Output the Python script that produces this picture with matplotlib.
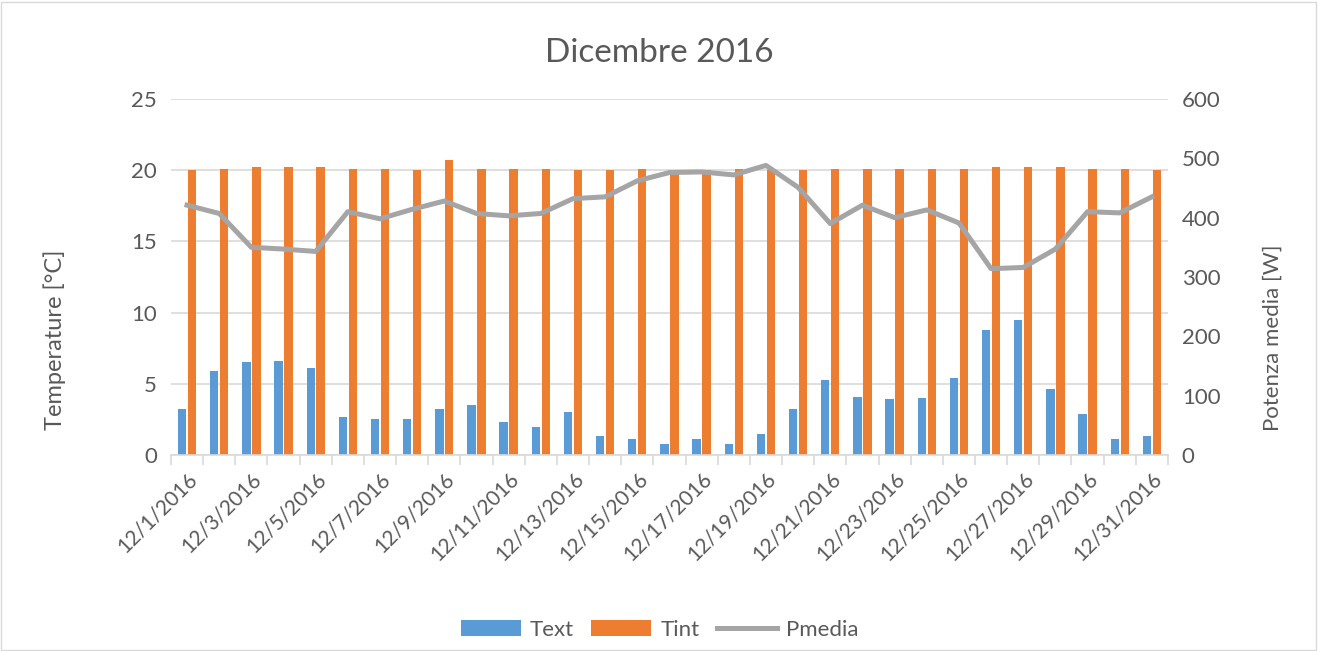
import numpy as np
import matplotlib
matplotlib.use("Agg")
import matplotlib.pyplot as plt
from matplotlib.patches import Rectangle

plt.rcParams['font.family'] = ['Lato', 'DejaVu Sans']

days = ["12/%d/2016" % d for d in range(1, 32)]

t_ext = [3.2, 5.9, 6.5, 6.6, 6.1, 2.7, 2.5, 2.5, 3.2, 3.5,
         2.3, 2.0, 3.0, 1.3, 1.1, 0.8, 1.1, 0.8, 1.5, 3.2,
         5.3, 4.1, 3.9, 4.0, 5.4, 8.8, 9.5, 4.6, 2.9, 1.1, 1.3]
t_int = [20.0, 20.1, 20.2, 20.2, 20.2, 20.1, 20.1, 20.0, 20.7, 20.1,
         20.1, 20.1, 20.0, 20.0, 20.1, 20.0, 20.0, 20.1, 20.0, 20.0,
         20.1, 20.1, 20.1, 20.1, 20.1, 20.2, 20.2, 20.2, 20.1, 20.1, 20.0]
p_media = [421, 407, 350, 347, 343, 410, 398, 414, 428, 407,
           403, 407, 432, 435, 462, 476, 477, 472, 488, 451,
           390, 421, 400, 413, 391, 314, 316, 347, 410, 408, 435]

blue = "#5B9BD5"
orange = "#ED7D31"
grey = "#A5A5A5"
txt = "#595959"
grid = "#D9D9D9"

fig = plt.figure(figsize=(13.19, 6.51), dpi=100)
fig.patches.append(Rectangle((0.001, 0.002), 0.997, 0.995, transform=fig.transFigure,
                             fill=False, edgecolor=grid, linewidth=1))
ax = fig.add_axes([0.1296, 0.3011, 0.7559, 0.5469])
ax2 = ax.twinx()

x = np.arange(len(days))
w = 0.26
ax.bar(x - 0.155, t_ext, width=w, color=blue, label="Text", zorder=2)
ax.bar(x + 0.155, t_int, width=w, color=orange, label="Tint", zorder=2)
ax2.plot(x, p_media, color=grey, linewidth=3.6, label="Pmedia", zorder=3)

ax.set_xlim(-0.5, len(days) - 0.5)
ax.set_ylim(0, 25)
ax.set_yticks(np.arange(0, 26, 5))
ax2.set_ylim(0, 600)
ax2.set_yticks(np.arange(0, 601, 100))

ax.yaxis.grid(True, color=grid, linewidth=1.2, zorder=0)
ax.set_axisbelow(True)

for a in (ax, ax2):
    for s in a.spines.values():
        s.set_visible(False)
    a.tick_params(axis="y", length=0, labelsize=16, labelcolor=txt, pad=10)
ax.spines["bottom"].set_visible(True)
ax.spines["bottom"].set_color(grid)
ax.spines["bottom"].set_linewidth(1.2)

ax.set_xticks(x[::2])
ax.set_xticklabels(days[::2], rotation=45, ha="right", rotation_mode="anchor",
                   fontsize=15, color=txt)
ax.set_xticks(np.arange(-0.5, len(days), 1), minor=True)
ax.tick_params(axis="x", which="major", length=0, pad=10)
ax.tick_params(axis="x", which="minor", length=7, color=grid, width=1.2)

ax.set_ylabel("Temperature [°C]", fontsize=17, color=txt)
ax2.set_ylabel("Potenza media [W]", fontsize=16, color=txt)
ax.yaxis.set_label_coords(-0.105, 0.323)
ax2.yaxis.set_label_coords(1.095, 0.328)

fig.text(0.5, 1 - 53 / 651, "Dicembre 2016", fontsize=24, color=txt,
         ha="center", va="center")

h1, l1 = ax.get_legend_handles_labels()
h2, l2 = ax2.get_legend_handles_labels()
fig.legend(h1 + h2, l1 + l2, loc="center", bbox_to_anchor=(0.5, 1 - 630 / 651), ncol=3,
           frameon=False, fontsize=16, labelcolor=txt, handlelength=2.7,
           handleheight=0.75, columnspacing=0.8, handletextpad=0.4)

fig.savefig("out.png", dpi=100)
